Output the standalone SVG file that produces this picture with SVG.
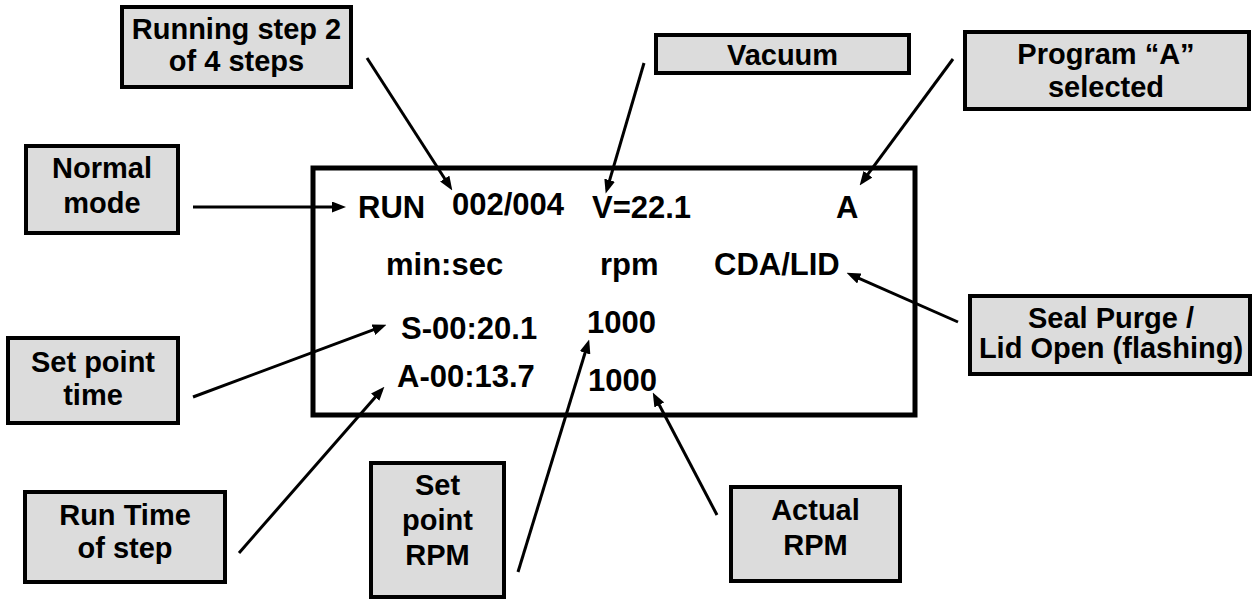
<svg xmlns="http://www.w3.org/2000/svg" width="1252" height="599" viewBox="0 0 1252 599">
<style>
  .box { fill: #dcdcdc; stroke: #000; stroke-width: 4; }
  .lbl { font-family: "Liberation Sans", Arial, sans-serif; font-weight: bold; font-size: 29px; fill: #000; text-anchor: middle; }
  .disp { font-family: "Liberation Sans", Arial, sans-serif; font-weight: bold; font-size: 31px; fill: #000; }
  .con { stroke: #000; stroke-width: 3; fill: none; marker-end: url(#ah); }
</style>
<defs>
  <marker id="ah" markerUnits="userSpaceOnUse" markerWidth="14" markerHeight="11" viewBox="0 0 14 11" refX="9" refY="5.5" orient="auto">
    <path d="M0,0 L14,5.5 L0,11 z" fill="#000"/>
  </marker>
</defs>
<rect width="1252" height="599" fill="#fff"/>

<g id="display">
  <rect x="313" y="168" width="602" height="247" fill="none" stroke="#000" stroke-width="5"/>
  <text class="disp" x="358" y="218">RUN</text>
  <text class="disp" x="452" y="215">002/004</text>
  <text class="disp" x="592" y="218">V=22.1</text>
  <text class="disp" x="836" y="218">A</text>
  <text class="disp" x="386" y="275">min:sec</text>
  <text class="disp" x="600" y="275">rpm</text>
  <text class="disp" x="714" y="275">CDA/LID</text>
  <text class="disp" x="401" y="339">S-00:20.1</text>
  <text class="disp" x="587" y="333">1000</text>
  <text class="disp" x="397" y="387">A-00:13.7</text>
  <text class="disp" x="588" y="391">1000</text>
</g>

<g id="running-step">
  <rect class="box" x="122" y="7" width="229" height="80"/>
  <text class="lbl" x="236.5" y="39">Running step 2</text>
  <text class="lbl" x="236.5" y="71">of 4 steps</text>
</g>
<g id="vacuum">
  <rect class="box" x="656" y="35" width="253" height="38"/>
  <text class="lbl" x="782.5" y="65">Vacuum</text>
</g>
<g id="program">
  <rect class="box" x="965" y="32" width="284" height="77"/>
  <text class="lbl" x="1106" y="64">Program “A”</text>
  <text class="lbl" x="1106" y="97">selected</text>
</g>
<g id="normal-mode">
  <rect class="box" x="26" y="146" width="152" height="87"/>
  <text class="lbl" x="102" y="178">Normal</text>
  <text class="lbl" x="102" y="213">mode</text>
</g>
<g id="seal-purge">
  <rect class="box" x="970" y="296" width="280" height="78"/>
  <text class="lbl" x="1111" y="328">Seal Purge /</text>
  <text class="lbl" x="1111" y="358">Lid Open (flashing)</text>
</g>
<g id="set-point-time">
  <rect class="box" x="8" y="338" width="170" height="85"/>
  <text class="lbl" x="93" y="372">Set point</text>
  <text class="lbl" x="93" y="405">time</text>
</g>
<g id="run-time">
  <rect class="box" x="25" y="492" width="200" height="90"/>
  <text class="lbl" x="125" y="525">Run Time</text>
  <text class="lbl" x="125" y="558">of step</text>
</g>
<g id="set-point-rpm">
  <rect class="box" x="371" y="463" width="133" height="134"/>
  <text class="lbl" x="437.5" y="495">Set</text>
  <text class="lbl" x="437.5" y="530">point</text>
  <text class="lbl" x="437.5" y="565">RPM</text>
</g>
<g id="actual-rpm">
  <rect class="box" x="731" y="487" width="169" height="94"/>
  <text class="lbl" x="815.5" y="520">Actual</text>
  <text class="lbl" x="815.5" y="555">RPM</text>
</g>

<g id="connectors">
  <line class="con" x1="193" y1="207" x2="341" y2="207"/>
  <line class="con" x1="367" y1="58" x2="449.6" y2="186.2"/>
  <line class="con" x1="644" y1="63" x2="607.1" y2="188.8"/>
  <line class="con" x1="953" y1="59" x2="862.6" y2="181.4"/>
  <line class="con" x1="958" y1="322" x2="851.1" y2="274.8"/>
  <line class="con" x1="193" y1="397" x2="381.8" y2="326.6"/>
  <line class="con" x1="239" y1="553" x2="381.1" y2="390.4"/>
  <line class="con" x1="518" y1="572" x2="587.7" y2="344.3"/>
  <line class="con" x1="717" y1="515" x2="655.1" y2="397"/>
</g>
</svg>
